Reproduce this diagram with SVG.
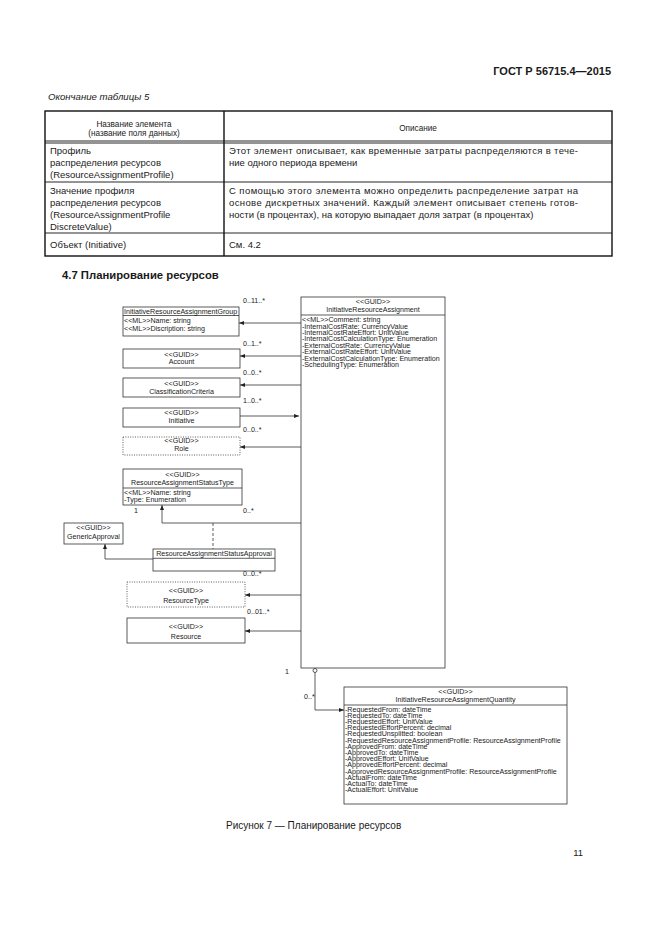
<svg xmlns="http://www.w3.org/2000/svg" width="661" height="935" viewBox="0 0 661 935">
<style>
text{font-family:"Liberation Sans",Arial,sans-serif;fill:#1a1a1a}
.pg{font-size:9.5px}
.th{font-size:8.2px}
.d{font-size:7.1px}
.box{fill:#fff;stroke:#333;stroke-width:0.8}
.dot{fill:#fff;stroke:#333;stroke-width:0.8;stroke-dasharray:1 1.4}
.ln{fill:none;stroke:#333;stroke-width:0.8}
.tb{fill:none;stroke:#111;stroke-width:1.4}
.tl{fill:none;stroke:#111;stroke-width:0.9}
</style>
<defs>
<marker id="ar" markerUnits="userSpaceOnUse" markerWidth="5" markerHeight="4" refX="5" refY="2" orient="auto">
<path d="M0,0 L5,2 L0,4 z" fill="#222"/>
</marker>
</defs>
<rect width="661" height="935" fill="#fff"/>
<text x="611" y="75" text-anchor="end" style="font-size:11px;font-weight:bold">ГОСТ Р 56715.4—2015</text>
<text x="48" y="100" style="font-size:9.6px;font-style:italic">Окончание таблицы 5</text>

<g id="table">
<rect class="tb" x="45" y="111" width="567" height="145"/>
<line class="tl" x1="45" y1="141" x2="612" y2="141"/>
<line class="tl" x1="45" y1="143" x2="612" y2="143"/>
<line class="tl" x1="45" y1="182" x2="612" y2="182"/>
<line class="tl" x1="45" y1="233" x2="612" y2="233"/>
<line class="tb" x1="224" y1="111" x2="224" y2="256"/>
<text class="th" x="134" y="127" text-anchor="middle">Название элемента</text>
<text class="th" x="134" y="136" text-anchor="middle">(название поля данных)</text>
<text class="th" x="418" y="131" text-anchor="middle">Описание</text>
<text class="pg" x="50" y="154">Профиль</text>
<text class="pg" x="50" y="166">распределения ресурсов</text>
<text class="pg" x="50" y="178">(ResourceAssignmentProfile)</text>
<text class="pg" x="229" y="154" textLength="349" lengthAdjust="spacing">Этот элемент описывает, как временные затраты распределяются в тече-</text>
<text class="pg" x="229" y="166">ние одного периода времени</text>
<text class="pg" x="50" y="194">Значение профиля</text>
<text class="pg" x="50" y="206">распределения ресурсов</text>
<text class="pg" x="50" y="218">(ResourceAssignmentProfile</text>
<text class="pg" x="50" y="230">DiscreteValue)</text>
<text class="pg" x="229" y="194" textLength="349" lengthAdjust="spacing">С помощью этого элемента можно определить распределение затрат на</text>
<text class="pg" x="229" y="206" textLength="349" lengthAdjust="spacing">основе дискретных значений. Каждый элемент описывает степень готов-</text>
<text class="pg" x="229" y="218">ности (в процентах), на которую выпадает доля затрат (в процентах)</text>
<text class="pg" x="50" y="248">Объект (Initiative)</text>
<text class="pg" x="229" y="248">См. 4.2</text>
</g>

<text x="62" y="279" style="font-size:11.3px;font-weight:bold">4.7 Планирование ресурсов</text>

<g id="connectors">
<line class="ln" x1="301" y1="323" x2="239" y2="323" marker-end="url(#ar)"/>
<line class="ln" x1="301" y1="356" x2="240" y2="356" marker-end="url(#ar)"/>
<line class="ln" x1="301" y1="385" x2="240" y2="385" marker-end="url(#ar)"/>
<line class="ln" x1="240" y1="416" x2="299" y2="416" marker-end="url(#ar)"/>
<line class="ln" x1="301" y1="447" x2="240" y2="447" marker-end="url(#ar)"/>
<polyline class="ln" points="301,523 162,523 162,505" marker-end="url(#ar)"/>
<line class="ln" x1="213" y1="523" x2="213" y2="549" stroke-dasharray="3 2"/>
<polyline class="ln" points="153,559 105,559 105,544" marker-end="url(#ar)"/>
<line class="ln" x1="301" y1="595" x2="245" y2="595" marker-end="url(#ar)"/>
<line class="ln" x1="301" y1="631" x2="245" y2="631" marker-end="url(#ar)"/>
<circle cx="315" cy="670.5" r="2" fill="#fff" stroke="#333" stroke-width="0.8"/>
<polyline class="ln" points="315,672.5 315,710 344,710" marker-end="url(#ar)"/>
<text class="d" x="243" y="302.5">0..11..*</text>
<text class="d" x="243" y="345.5">0..1..*</text>
<text class="d" x="243" y="374.5">0..0..*</text>
<text class="d" x="243" y="402.5">1..0..*</text>
<text class="d" x="243" y="431.5">0..0..*</text>
<text class="d" x="134" y="512.5">1</text>
<text class="d" x="243" y="512.5">0..*</text>
<text class="d" x="243" y="575.5">0..0..*</text>
<text class="d" x="247" y="614">0..01..*</text>
<text class="d" x="285" y="674">1</text>
<text class="d" x="304" y="699">0..*</text>
</g>

<g id="InitiativeResourceAssignment">
<rect class="box" x="301" y="297" width="144" height="371"/>
<line class="ln" x1="301" y1="315" x2="445" y2="315"/>
<text class="d" x="373" y="304.3" text-anchor="middle">&lt;&lt;GUID&gt;&gt;</text>
<text class="d" x="373" y="312.3" text-anchor="middle">InitiativeResourceAssignment</text>
<text class="d" x="302" y="322">&lt;&lt;ML&gt;&gt;Comment: string</text>
<text class="d" x="302" y="328.5">-InternalCostRate: CurrencyValue</text>
<text class="d" x="302" y="334.9">-InternalCostRateEffort: UnitValue</text>
<text class="d" x="302" y="341.4">-InternalCostCalculationType: Enumeration</text>
<text class="d" x="302" y="347.9">-ExternalCostRate: CurrencyValue</text>
<text class="d" x="302" y="354.3">-ExternalCostRateEffort: UnitValue</text>
<text class="d" x="302" y="360.8">-ExternalCostCalculationType: Enumeration</text>
<text class="d" x="302" y="367.3">-SchedulingType: Enumeration</text>
</g>

<g id="InitiativeResourceAssignmentGroup">
<rect class="box" x="123" y="307" width="116" height="29"/>
<line class="ln" x1="123" y1="315.5" x2="239" y2="315.5"/>
<text class="d" x="124" y="313.5">InitiativeResourceAssignmentGroup</text>
<text class="d" x="124" y="323">&lt;&lt;ML&gt;&gt;Name: string</text>
<text class="d" x="124" y="330.5">&lt;&lt;ML&gt;&gt;Discription: string</text>
</g>

<g id="Account">
<rect class="box" x="123" y="349" width="117" height="19"/>
<text class="d" x="181.5" y="357" text-anchor="middle">&lt;&lt;GUID&gt;&gt;</text>
<text class="d" x="181.5" y="364" text-anchor="middle">Account</text>
</g>

<g id="ClassificationCriteria">
<rect class="box" x="123" y="378" width="117" height="19"/>
<text class="d" x="181.5" y="386" text-anchor="middle">&lt;&lt;GUID&gt;&gt;</text>
<text class="d" x="181.5" y="393.5" text-anchor="middle">ClassificationCriteria</text>
</g>

<g id="Initiative">
<rect class="box" x="123" y="408" width="117" height="19"/>
<text class="d" x="181.5" y="415" text-anchor="middle">&lt;&lt;GUID&gt;&gt;</text>
<text class="d" x="181.5" y="422.5" text-anchor="middle">Initiative</text>
</g>

<g id="Role">
<rect class="dot" x="123" y="437" width="117" height="18"/>
<text class="d" x="181.5" y="443" text-anchor="middle">&lt;&lt;GUID&gt;&gt;</text>
<text class="d" x="181.5" y="450.8" text-anchor="middle">Role</text>
</g>

<g id="ResourceAssignmentStatusType">
<rect class="box" x="123" y="469" width="119" height="36"/>
<line class="ln" x1="123" y1="488" x2="242" y2="488"/>
<text class="d" x="182.5" y="476.5" text-anchor="middle">&lt;&lt;GUID&gt;&gt;</text>
<text class="d" x="182.5" y="485" text-anchor="middle">ResourceAssignmentStatusType</text>
<text class="d" x="124" y="495">&lt;&lt;ML&gt;&gt;Name: string</text>
<text class="d" x="124" y="502">-Type: Enumeration</text>
</g>

<g id="GenericApproval">
<rect class="box" x="64" y="523" width="59" height="21"/>
<text class="d" x="93.5" y="529.8" text-anchor="middle">&lt;&lt;GUID&gt;&gt;</text>
<text class="d" x="93.5" y="539" text-anchor="middle">GenericApproval</text>
</g>

<g id="ResourceAssignmentStatusApproval">
<rect class="box" x="153" y="549" width="122" height="22"/>
<line class="ln" x1="153" y1="558.3" x2="275" y2="558.3"/>
<text class="d" x="214" y="555.8" text-anchor="middle">ResourceAssignmentStatusApproval</text>
</g>

<g id="ResourceType">
<rect class="dot" x="127" y="582" width="118" height="25"/>
<text class="d" x="186" y="593" text-anchor="middle">&lt;&lt;GUID&gt;&gt;</text>
<text class="d" x="186" y="602.5" text-anchor="middle">ResourceType</text>
</g>

<g id="Resource">
<rect class="box" x="127" y="618" width="118" height="25"/>
<text class="d" x="186" y="628.5" text-anchor="middle">&lt;&lt;GUID&gt;&gt;</text>
<text class="d" x="186" y="639" text-anchor="middle">Resource</text>
</g>

<g id="InitiativeResourceAssignmentQuantity">
<rect class="box" x="344" y="687" width="223" height="117"/>
<line class="ln" x1="344" y1="705" x2="567" y2="705"/>
<text class="d" x="455.5" y="694" text-anchor="middle">&lt;&lt;GUID&gt;&gt;</text>
<text class="d" x="455.5" y="702" text-anchor="middle">InitiativeResourceAssignmentQuantity</text>
<text class="d" x="345" y="711.5">-RequestedFrom: dateTime</text>
<text class="d" x="345" y="717.7">-RequestedTo: dateTime</text>
<text class="d" x="345" y="723.9">-RequestedEffort: UnitValue</text>
<text class="d" x="345" y="730.1">-RequestedEffortPercent: decimal</text>
<text class="d" x="345" y="736.3">-RequestedUnsplitted: boolean</text>
<text class="d" x="345" y="742.5">-RequestedResourceAssignmentProfile: ResourceAssignmentProfile</text>
<text class="d" x="345" y="748.7">-ApprovedFrom: dateTime</text>
<text class="d" x="345" y="754.9">-ApprovedTo: dateTime</text>
<text class="d" x="345" y="761.1">-ApprovedEffort: UnitValue</text>
<text class="d" x="345" y="767.3">-ApprovedEffortPercent: decimal</text>
<text class="d" x="345" y="773.5">-ApprovedResourceAssignmentProfile: ResourceAssignmentProfile</text>
<text class="d" x="345" y="779.7">-ActualFrom: dateTime</text>
<text class="d" x="345" y="785.9">-ActualTo: dateTime</text>
<text class="d" x="345" y="792.1">-ActualEffort: UnitValue</text>
</g>

<text x="226" y="829" style="font-size:10px">Рисунок 7 — Планирование ресурсов</text>
<text class="pg" x="583" y="856" text-anchor="end">11</text>
</svg>
